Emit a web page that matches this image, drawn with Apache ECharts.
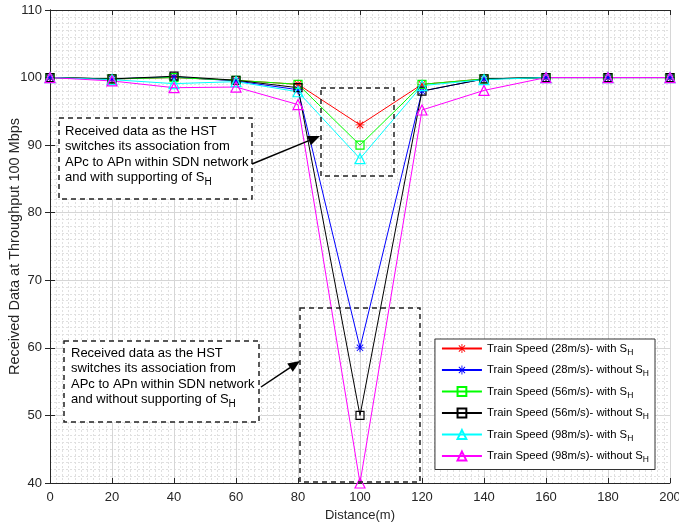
<!DOCTYPE html>
<html><head><meta charset="utf-8">
<script src="https://cdn.jsdelivr.net/npm/echarts@6/dist/echarts.min.js"></script>
<style>html,body{margin:0;padding:0;background:#fff}#c{width:679px;height:525px}</style>
</head><body><div id="c"></div>
<script>
var distance = [0, 20, 40, 60, 80, 100, 120, 140, 160, 180, 200];
var s28With    = [100, 99.8, 100, 99.6, 99.0, 93, 99.0, 99.8, 100, 100, 100];
var s28Without = [100, 99.8, 100.1, 99.5, 98.2, 60, 98.0, 99.8, 100, 100, 100];
var s56With    = [100, 99.8, 100, 99.6, 99.0, 90, 99.0, 99.8, 100, 100, 100];
var s56Without = [100, 99.8, 100.2, 99.6, 98.5, 50, 98.0, 99.8, 100, 100, 100];
var s98With    = [100, 99.7, 99.1, 99.4, 97.9, 88, 98.8, 99.7, 100, 100, 100];
var s98Without = [100, 99.5, 98.5, 98.6, 96.0, 40, 95.2, 98.1, 100, 100, 100];
var seriesNames = [
  'Train Speed (28m/s)- with S',
  'Train Speed (28m/s)- without S',
  'Train Speed (56m/s)- with S',
  'Train Speed (56m/s)- without S',
  'Train Speed (98m/s)- with S',
  'Train Speed (98m/s)- without S'
];
var seriesData = [s28With, s28Without, s56With, s56Without, s98With, s98Without];
var colors = ['#ff0000', '#0000ff', '#00ff00', '#000000', '#00ffff', '#ff00ff'];
var asterisk = 'path://M9,0 L11,0 L11,20 L9,20 Z M0,9 L20,9 L20,11 L0,11 Z M2.2,3.6 L3.6,2.2 L17.8,16.4 L16.4,17.8 Z M16.4,2.2 L17.8,3.6 L3.6,17.8 L2.2,16.4 Z';
var symbols = [asterisk, asterisk, 'rect', 'rect', 'triangle', 'triangle'];
var symbolSizes = [9, 9, 8, 8, 10, 10];

var chart = echarts.init(document.getElementById('c'));
var FONT = 'Liberation Sans, Arial, sans-serif';
var series = seriesData.map(function (d, i) {
  var filled = i < 2;
  return {
    name: seriesNames[i],
    type: 'line',
    data: d.map(function (v, k) { return [distance[k], v]; }),
    symbol: symbols[i],
    symbolSize: symbolSizes[i],
    showAllSymbol: true,
    color: colors[i],
    lineStyle: { color: colors[i], width: 1 },
    itemStyle: filled ? { color: colors[i], borderWidth: 0 } : { color: 'rgba(255,255,255,0)', borderColor: colors[i], borderWidth: 1.2 },
    emphasis: { disabled: true },
    animation: false,
    z: 3
  };
});
var axisLbl = { color: '#262626', fontFamily: FONT, fontSize: 13 };
var option = {
  animation: false,
  grid: { left: 50, right: 9, top: 10, bottom: 42, show: false, containLabel: false, outerBoundsMode: 'none' },
  legend: {
    orient: 'vertical', right: 24, top: 339,
    backgroundColor: '#fff', borderColor: '#333', borderWidth: 1,
    padding: [4, 6, 5, 6], itemGap: 7.5, itemWidth: 40, itemHeight: 11,
    data: seriesNames,
    formatter: function (n) { return n + '{sub|H}'; },
    textStyle: { color: '#000', fontFamily: FONT, fontSize: 11.3,
      rich: { sub: { fontSize: 8.5, fontFamily: FONT, color: '#000', verticalAlign: 'bottom', padding: [8, 0, 0, 0] } } }
  },
  xAxis: [{
    type: 'value', min: 0, max: 200, interval: 20,
    name: 'Distance(m)', nameLocation: 'middle', nameGap: 22,
    nameTextStyle: { color: '#262626', fontFamily: FONT, fontSize: 13 },
    axisLine: { lineStyle: { color: '#262626' } },
    axisTick: { inside: true, length: 5, lineStyle: { color: '#262626' } },
    axisLabel: axisLbl,
    splitLine: { show: true, lineStyle: { color: '#d6d6d6', width: 1 } },
    minorTick: { show: true, splitNumber: 10, length: 0 },
    minorSplitLine: { show: true, lineStyle: { color: '#e0e0e0', type: [2, 2], width: 1 } }
  }, {
    type: 'value', min: 0, max: 200, interval: 20, position: 'top',
    axisLine: { show: true, lineStyle: { color: '#262626' } },
    axisTick: { inside: true, length: 5, lineStyle: { color: '#262626' } },
    axisLabel: { show: false }, splitLine: { show: false }
  }],
  yAxis: [{
    type: 'value', min: 40, max: 110, interval: 10,
    name: 'Received Data at Throughput 100 Mbps', nameLocation: 'middle', nameGap: 28, nameMoveOverlap: false,
    nameTextStyle: { color: '#262626', fontFamily: FONT, fontSize: 14.5, verticalAlign: 'bottom' },
    axisLine: { show: true, lineStyle: { color: '#262626' } },
    axisTick: { show: true, inside: true, length: 5, lineStyle: { color: '#262626' } },
    axisLabel: axisLbl,
    splitLine: { show: true, lineStyle: { color: '#d6d6d6', width: 1 } },
    minorTick: { show: true, splitNumber: 10, length: 0 },
    minorSplitLine: { show: true, lineStyle: { color: '#e0e0e0', type: [2, 2], width: 1 } }
  }, {
    type: 'value', min: 40, max: 110, interval: 10, position: 'right',
    axisLine: { show: true, lineStyle: { color: '#262626' } },
    axisTick: { show: true, inside: true, length: 5, lineStyle: { color: '#262626' } },
    axisLabel: { show: false }, splitLine: { show: false }
  }],
  series: series
};
chart.setOption(option);

function dashedRect(x1, y1, x2, y2, fill) {
  return { type: 'rect', shape: { x: x1, y: y1, width: x2 - x1, height: y2 - y1 },
    style: { fill: fill || 'none', stroke: '#222', lineWidth: 1.5, lineDash: [5, 4] }, z: 10 };
}
function arrow(x1, y1, x2, y2) {
  var a = Math.atan2(y2 - y1, x2 - x1), L = 12, W = 5;
  var bx = x2 - L * Math.cos(a), by = y2 - L * Math.sin(a);
  var px = -Math.sin(a) * W, py = Math.cos(a) * W;
  return [
    { type: 'line', shape: { x1: x1, y1: y1, x2: bx, y2: by }, style: { stroke: '#000', lineWidth: 1.5 }, z: 11 },
    { type: 'polygon', shape: { points: [[x2, y2], [bx + px, by + py], [bx - px, by - py]] }, style: { fill: '#000' }, z: 11 }
  ];
}
function textBlock(x, y, lines) {
  return lines.map(function (t, i) {
    return { type: 'text', x: x, y: y + i * 15.5, z: 12,
      style: { text: t, fill: '#000', font: '13px ' + FONT, textVerticalAlign: 'middle',
        rich: { sub: { fontSize: 10, fontFamily: FONT, fill: '#000', padding: [10, 0, 0, 0] } } } };
  });
}
var graphics = [
  dashedRect(59, 118, 252, 199, '#fff'),
  dashedRect(321, 88, 394, 176),
  dashedRect(64, 341, 259, 422, '#fff'),
  dashedRect(300, 308, 420, 482)
].concat(arrow(252, 164, 320, 136), arrow(261, 387, 300, 361),
  textBlock(65, 131, ['Received data as the HST', 'switches its association from', 'APc to APn within SDN network', 'and with supporting of S{sub|H}']),
  textBlock(71, 353, ['Received data as the HST', 'switches its association from', 'APc to APn within SDN network', 'and without supporting of S{sub|H}']));
chart.setOption({ graphic: graphics });
</script></body></html>
